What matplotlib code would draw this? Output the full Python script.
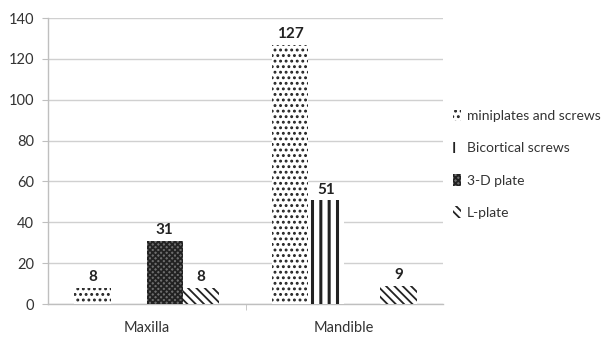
import matplotlib
matplotlib.use("Agg")
import matplotlib.pyplot as plt
import numpy as np

plt.rcParams['font.family'] = ['Lato', 'DejaVu Sans']
plt.rcParams['hatch.linewidth'] = 1.3

categories = ["Maxilla", "Mandible"]
series_names = ["miniplates and screws", "Bicortical screws", "3-D plate", "L-plate"]
miniplates = [8, 127]
bicortical = [0, 51]
plate_3d = [31, 0]
l_plate = [8, 9]
series = [miniplates, bicortical, plate_3d, l_plate]
yticks = [0, 20, 40, 60, 80, 100, 120, 140]

hatches = ['...', '||', 'xxxxxx', '\\\\\\\\']
faces = ['white', 'white', '#6e6e6e', 'white']

fig = plt.figure(figsize=(6.09, 3.38), dpi=100)
ax = fig.add_axes([48 / 609, (338 - 304) / 338, (443 - 48) / 609, (304 - 18) / 338])

x = np.arange(len(categories))
width = 0.183
handles = []
for i, (vals, name) in enumerate(zip(series, series_names)):
    pos = x + (i - 1.5) * width
    bars = ax.bar(pos, vals, width, color=faces[i], edgecolor='#222222',
                  hatch=hatches[i], linewidth=0, label=name, zorder=3)
    if i == 1:
        for b in bars:
            b.set_hatch_linewidth(2.2)
    handles.append(bars)
    for p, v in zip(pos, vals):
        if v > 0:
            ax.text(p, v + 5, str(v), ha='center', va='center',
                    fontsize=11, fontweight='bold', color='#222222')

ax.set_xlim(-0.5, 1.5)
ax.set_ylim(0, 140)
ax.set_yticks(yticks)
ax.set_yticklabels([str(t) for t in yticks], fontsize=10.5, color='#333333')
ax.yaxis.grid(True, color='#d0d0d0', linewidth=1, zorder=0)
ax.set_axisbelow(True)
ax.tick_params(axis='y', length=4, color='#bfbfbf', pad=6)
ax.set_xticks(x)
ax.set_xticklabels(categories, fontsize=10.5, color='#333333')
ax.tick_params(axis='x', length=0, pad=12)
ax.set_xticks([0.5], minor=True)
ax.tick_params(axis='x', which='minor', length=4, color='#bfbfbf')

for s in ['top', 'right']:
    ax.spines[s].set_visible(False)
for s in ['left', 'bottom']:
    ax.spines[s].set_color('#bfbfbf')
    ax.spines[s].set_linewidth(1)

leg = fig.legend(handles=handles, labels=series_names, loc='upper left',
                 bbox_to_anchor=(440 / 609, 1 - 97 / 338), frameon=False,
                 fontsize=10, handlelength=0.6, handleheight=0.9,
                 handletextpad=0.45, labelspacing=1.42, labelcolor='#333333')

fig.savefig("out.png", dpi=100)
